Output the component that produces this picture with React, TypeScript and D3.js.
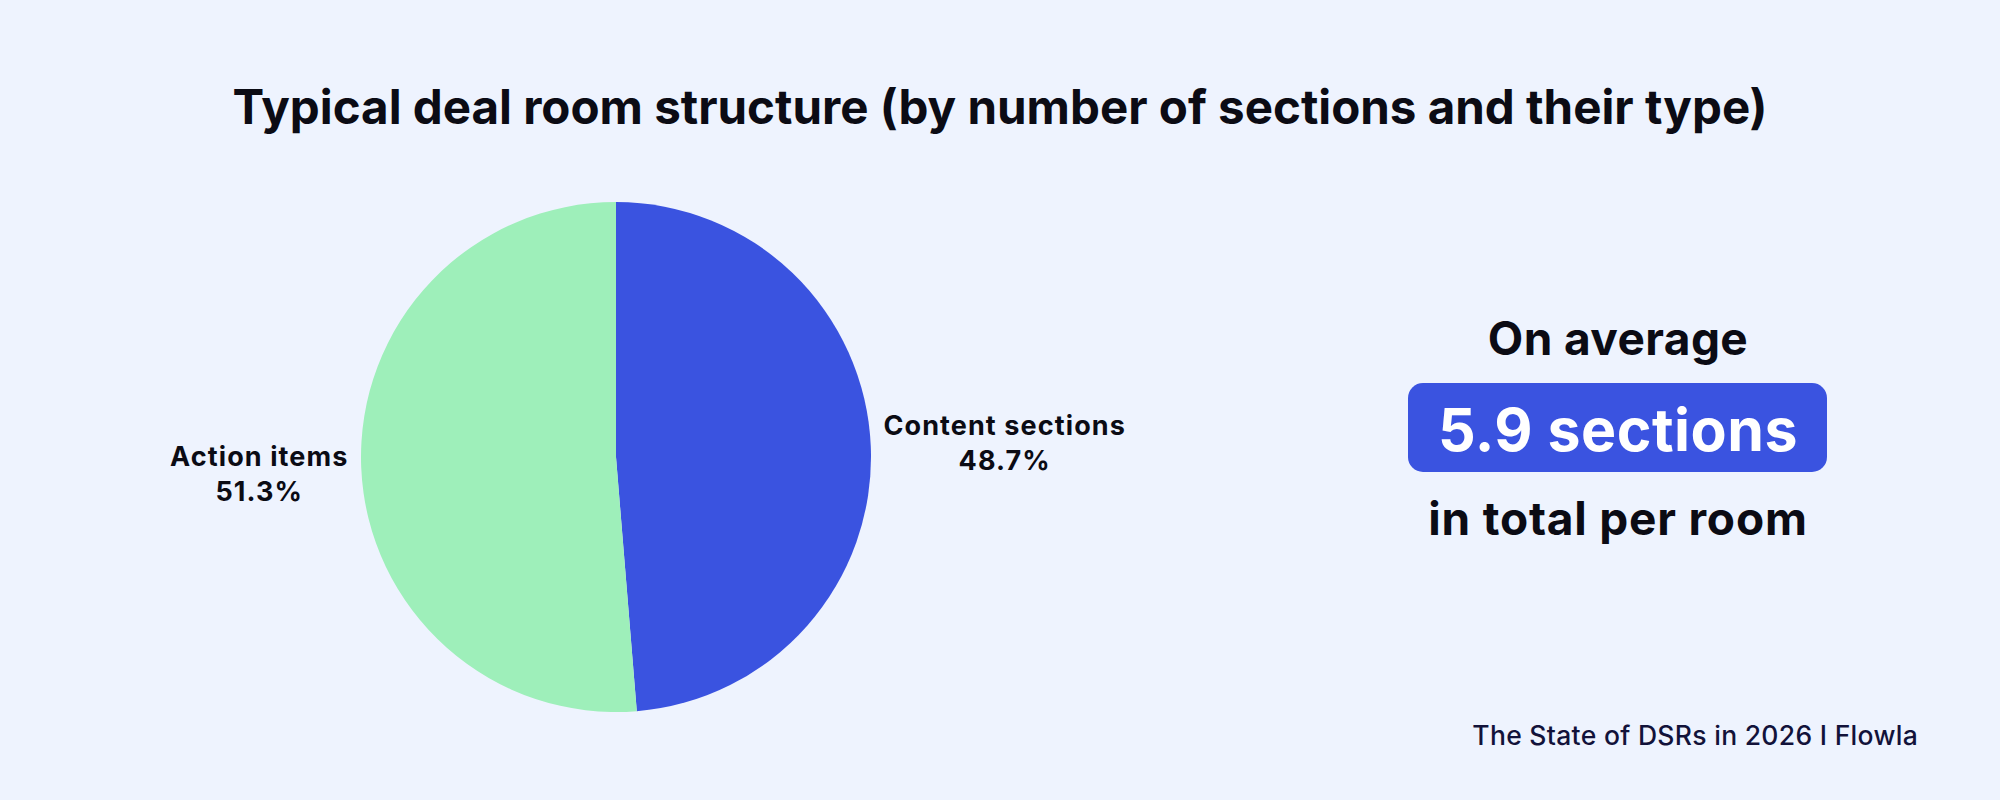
import React, { useEffect, useRef } from "react";
import * as d3 from "d3";

const categories = ["Content sections", "Action items"];
const shares = [48.7, 51.3];
const sliceColors = ["#3A53E0", "#9EEFBA"];
const titleText = "Typical deal room structure (by number of sections and their type)";
const calloutTop = "On average";
const calloutValue = "5.9 sections";
const calloutBottom = "in total per room";
const sourceText = "The State of DSRs in 2026 I Flowla";

const W = 2000;
const H = 800;
const FONT = "Inter, 'Noto Sans', sans-serif";

export default function App() {
  const ref = useRef<SVGSVGElement | null>(null);

  useEffect(() => {
    const svg = d3.select(ref.current);
    svg.selectAll("*").remove();

    svg.append("rect").attr("width", W).attr("height", H).attr("fill", "#EEF3FE");

    svg.append("text")
      .attr("x", 1000).attr("y", 124)
      .attr("text-anchor", "middle")
      .attr("font-family", FONT).attr("font-weight", 700).attr("font-size", 47.5)
      .attr("fill", "#0b0b14")
      .text(titleText);

    const cx = 616, cy = 457, R = 255;
    const data = categories.map((c, i) => ({ label: c, value: shares[i], color: sliceColors[i] }));
    const pie = d3.pie<any>().sort(null).value((d: any) => d.value);
    const arcs = pie(data);
    const arc = d3.arc<any>().innerRadius(0).outerRadius(R);
    const g = svg.append("g").attr("transform", `translate(${cx},${cy})`);
    g.selectAll("path").data(arcs).join("path")
      .attr("d", arc as any)
      .attr("fill", (d: any) => d.data.color);

    const labelR = [389, 357];
    const labelDy = [-22, 9];
    arcs.forEach((a: any, i: number) => {
      const mid = (a.startAngle + a.endAngle) / 2;
      const x = Math.sin(mid) * labelR[i];
      const t = g.append("text")
        .attr("text-anchor", "middle")
        .attr("font-family", FONT).attr("font-weight", 700).attr("font-size", 27)
        .attr("letter-spacing", 1.1)
        .attr("fill", "#0b0b14");
      t.append("tspan").attr("x", x).attr("y", labelDy[i]).text(a.data.label);
      t.append("tspan").attr("x", x).attr("y", labelDy[i] + 35)
        .text(d3.format(".1f")(a.data.value) + "%");
    });

    const pcx = 1618;
    svg.append("text")
      .attr("x", pcx).attr("y", 355).attr("text-anchor", "middle")
      .attr("font-family", FONT).attr("font-weight", 700).attr("font-size", 46)
      .attr("letter-spacing", 0.4)
      .attr("fill", "#0b0b14").text(calloutTop);
    svg.append("rect")
      .attr("x", 1408).attr("y", 383).attr("width", 419).attr("height", 89)
      .attr("rx", 15).attr("fill", "#3A53E0");
    svg.append("text")
      .attr("x", pcx).attr("y", 451).attr("text-anchor", "middle")
      .attr("font-family", FONT).attr("font-weight", 700).attr("font-size", 59)
      .attr("letter-spacing", 0.5)
      .attr("fill", "#ffffff").text(calloutValue);
    svg.append("text")
      .attr("x", pcx).attr("y", 535).attr("text-anchor", "middle")
      .attr("font-family", FONT).attr("font-weight", 700).attr("font-size", 46)
      .attr("letter-spacing", 0.8)
      .attr("fill", "#0b0b14").text(calloutBottom);

    svg.append("text")
      .attr("x", 1918).attr("y", 745).attr("text-anchor", "end")
      .attr("font-family", FONT).attr("font-weight", 500).attr("font-size", 26.5)
      .attr("letter-spacing", 0.3)
      .attr("fill", "#12123a").text(sourceText);
  }, []);

  return (
    <svg ref={ref} width={W} height={H} style={{ display: "block", position: "absolute", left: 0, top: 0 }} />
  );
}
